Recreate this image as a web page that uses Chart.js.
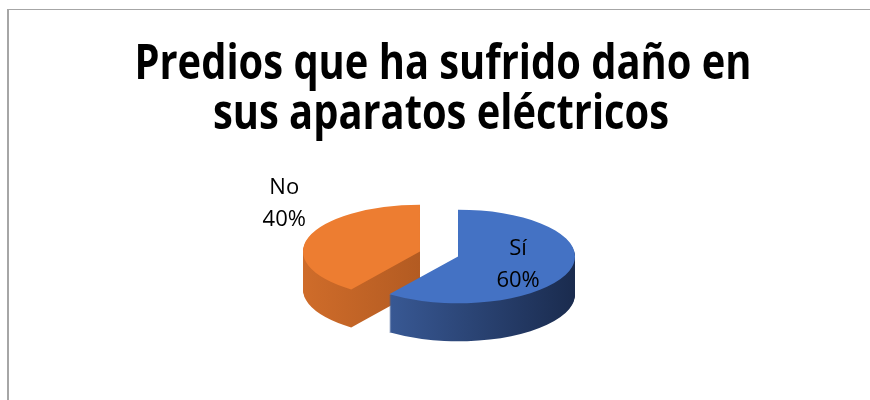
<!DOCTYPE html>
<html>
<head>
    <meta charset="utf-8">
    <title>Predios que ha sufrido daño en sus aparatos eléctricos</title>
    <script src="https://cdn.jsdelivr.net/npm/chart.js"></script>
    <style>
        body{
            margin: 0;
            background: #ffffff;
        }
        .box{
            width: 870px;
            height: 400px;
        }
    </style>
</head>
<body>
    <div class="box">
        <canvas id="danoChart" width="870" height="400"></canvas>
    </div>
    <script>
        // data
        const titleLines = ['Predios que ha sufrido daño en', 'sus aparatos eléctricos'];
        const categories = ['Sí', 'No'];
        const values = [60, 40];
        const topColors = ['#4472c4', '#ed7d31'];
        const sideColors = [['#4064a6', '#1a2b4e'], ['#cf6c2a', '#974a1a']];

        // fake 3d look
        const tilt = 0.4;
        const depth = 38;
        const explode = 20;
        const pieCenter = { x: 439, y: 254 };
        const labelRadius = [0.54, 1.22];

        function toScreen(r, ang, flat) {
            const px = Math.cos(ang) * r;
            const py = Math.sin(ang) * r;
            return { x: pieCenter.x + px, y: pieCenter.y + py * flat };
        }

        function drawArcs(chart, dy, useSide) {
            const ctx = chart.ctx;
            const meta = chart.getDatasetMeta(0);
            meta.data.forEach((arc, i) => {
                const saved = arc.options.backgroundColor;
                if (useSide) {
                    const g = ctx.createLinearGradient(arc.x - arc.outerRadius, 0, arc.x + arc.outerRadius, 0);
                    g.addColorStop(0, sideColors[i][0]);
                    g.addColorStop(1, sideColors[i][1]);
                    arc.options.backgroundColor = g;
                }
                const mid = (arc.startAngle + arc.endAngle) / 2;
                ctx.save();
                ctx.translate(pieCenter.x, pieCenter.y + dy);
                ctx.scale(1, tilt);
                ctx.translate(Math.cos(mid) * explode - arc.x, Math.sin(mid) * explode - arc.y);
                arc.draw(ctx);
                ctx.restore();
                arc.options.backgroundColor = saved;
            });
        }

        const pie3d = {
            id: 'pie3d',
            beforeDraw(chart) {
                const ctx = chart.ctx;
                ctx.save();
                ctx.fillStyle = '#a6a6a6';
                ctx.fillRect(7, 9, 2, 400);
                ctx.fillRect(7, 9, 870, 1);
                // title, stretched like the original
                ctx.fillStyle = '#000000';
                ctx.font = 'bold 42px "Open Sans"';
                ctx.textAlign = 'center';
                ctx.textBaseline = 'alphabetic';
                const w = ctx.measureText(titleLines[0]).width;
                const sx = 617 / w;
                const sy = 1.17;
                const rows = [{ x: 443, y: 79 }, { x: 441, y: 129 }];
                titleLines.forEach((t, i) => {
                    ctx.save();
                    ctx.translate(rows[i].x, rows[i].y);
                    ctx.scale(sx, sy);
                    ctx.fillText(t, 0, 0);
                    ctx.restore();
                });
                ctx.restore();
            },
            beforeDatasetsDraw(chart) {
                for (let d = depth; d >= 1; d--) {
                    drawArcs(chart, d, true);
                }
                drawArcs(chart, 0, false);
                return false;
            },
            afterDraw(chart) {
                const ctx = chart.ctx;
                const meta = chart.getDatasetMeta(0);
                const total = values.reduce((a, b) => a + b, 0);
                ctx.save();
                ctx.fillStyle = '#000000';
                ctx.font = '22px "Open Sans"';
                ctx.textAlign = 'center';
                ctx.textBaseline = 'middle';
                meta.data.forEach((arc, i) => {
                    const mid = (arc.startAngle + arc.endAngle) / 2;
                    const r = explode + arc.outerRadius * labelRadius[i];
                    const flat = labelRadius[i] > 1 ? 1 : tilt;
                    const p = toScreen(r, mid, flat);
                    const pct = Math.round(values[i] / total * 100) + '%';
                    ctx.fillText(categories[i], p.x, p.y - 16);
                    ctx.fillText(pct, p.x, p.y + 16);
                });
                ctx.restore();
            }
        };

        const ctx = document.getElementById('danoChart').getContext('2d');
        const danoChart = new Chart(ctx, {
            type: 'pie',
            data: {
                labels: categories,
                datasets: [{
                    data: values,
                    backgroundColor: topColors,
                    borderWidth: 0
                }]
            },
            options: {
                responsive: false,
                animation: false,
                layout: { padding: { top: 83, bottom: 83 } },
                plugins: {
                    legend: { display: false },
                    title: { display: false },
                    tooltip: { enabled: false }
                }
            },
            plugins: [pie3d]
        });
    </script>
</body>
</html>
